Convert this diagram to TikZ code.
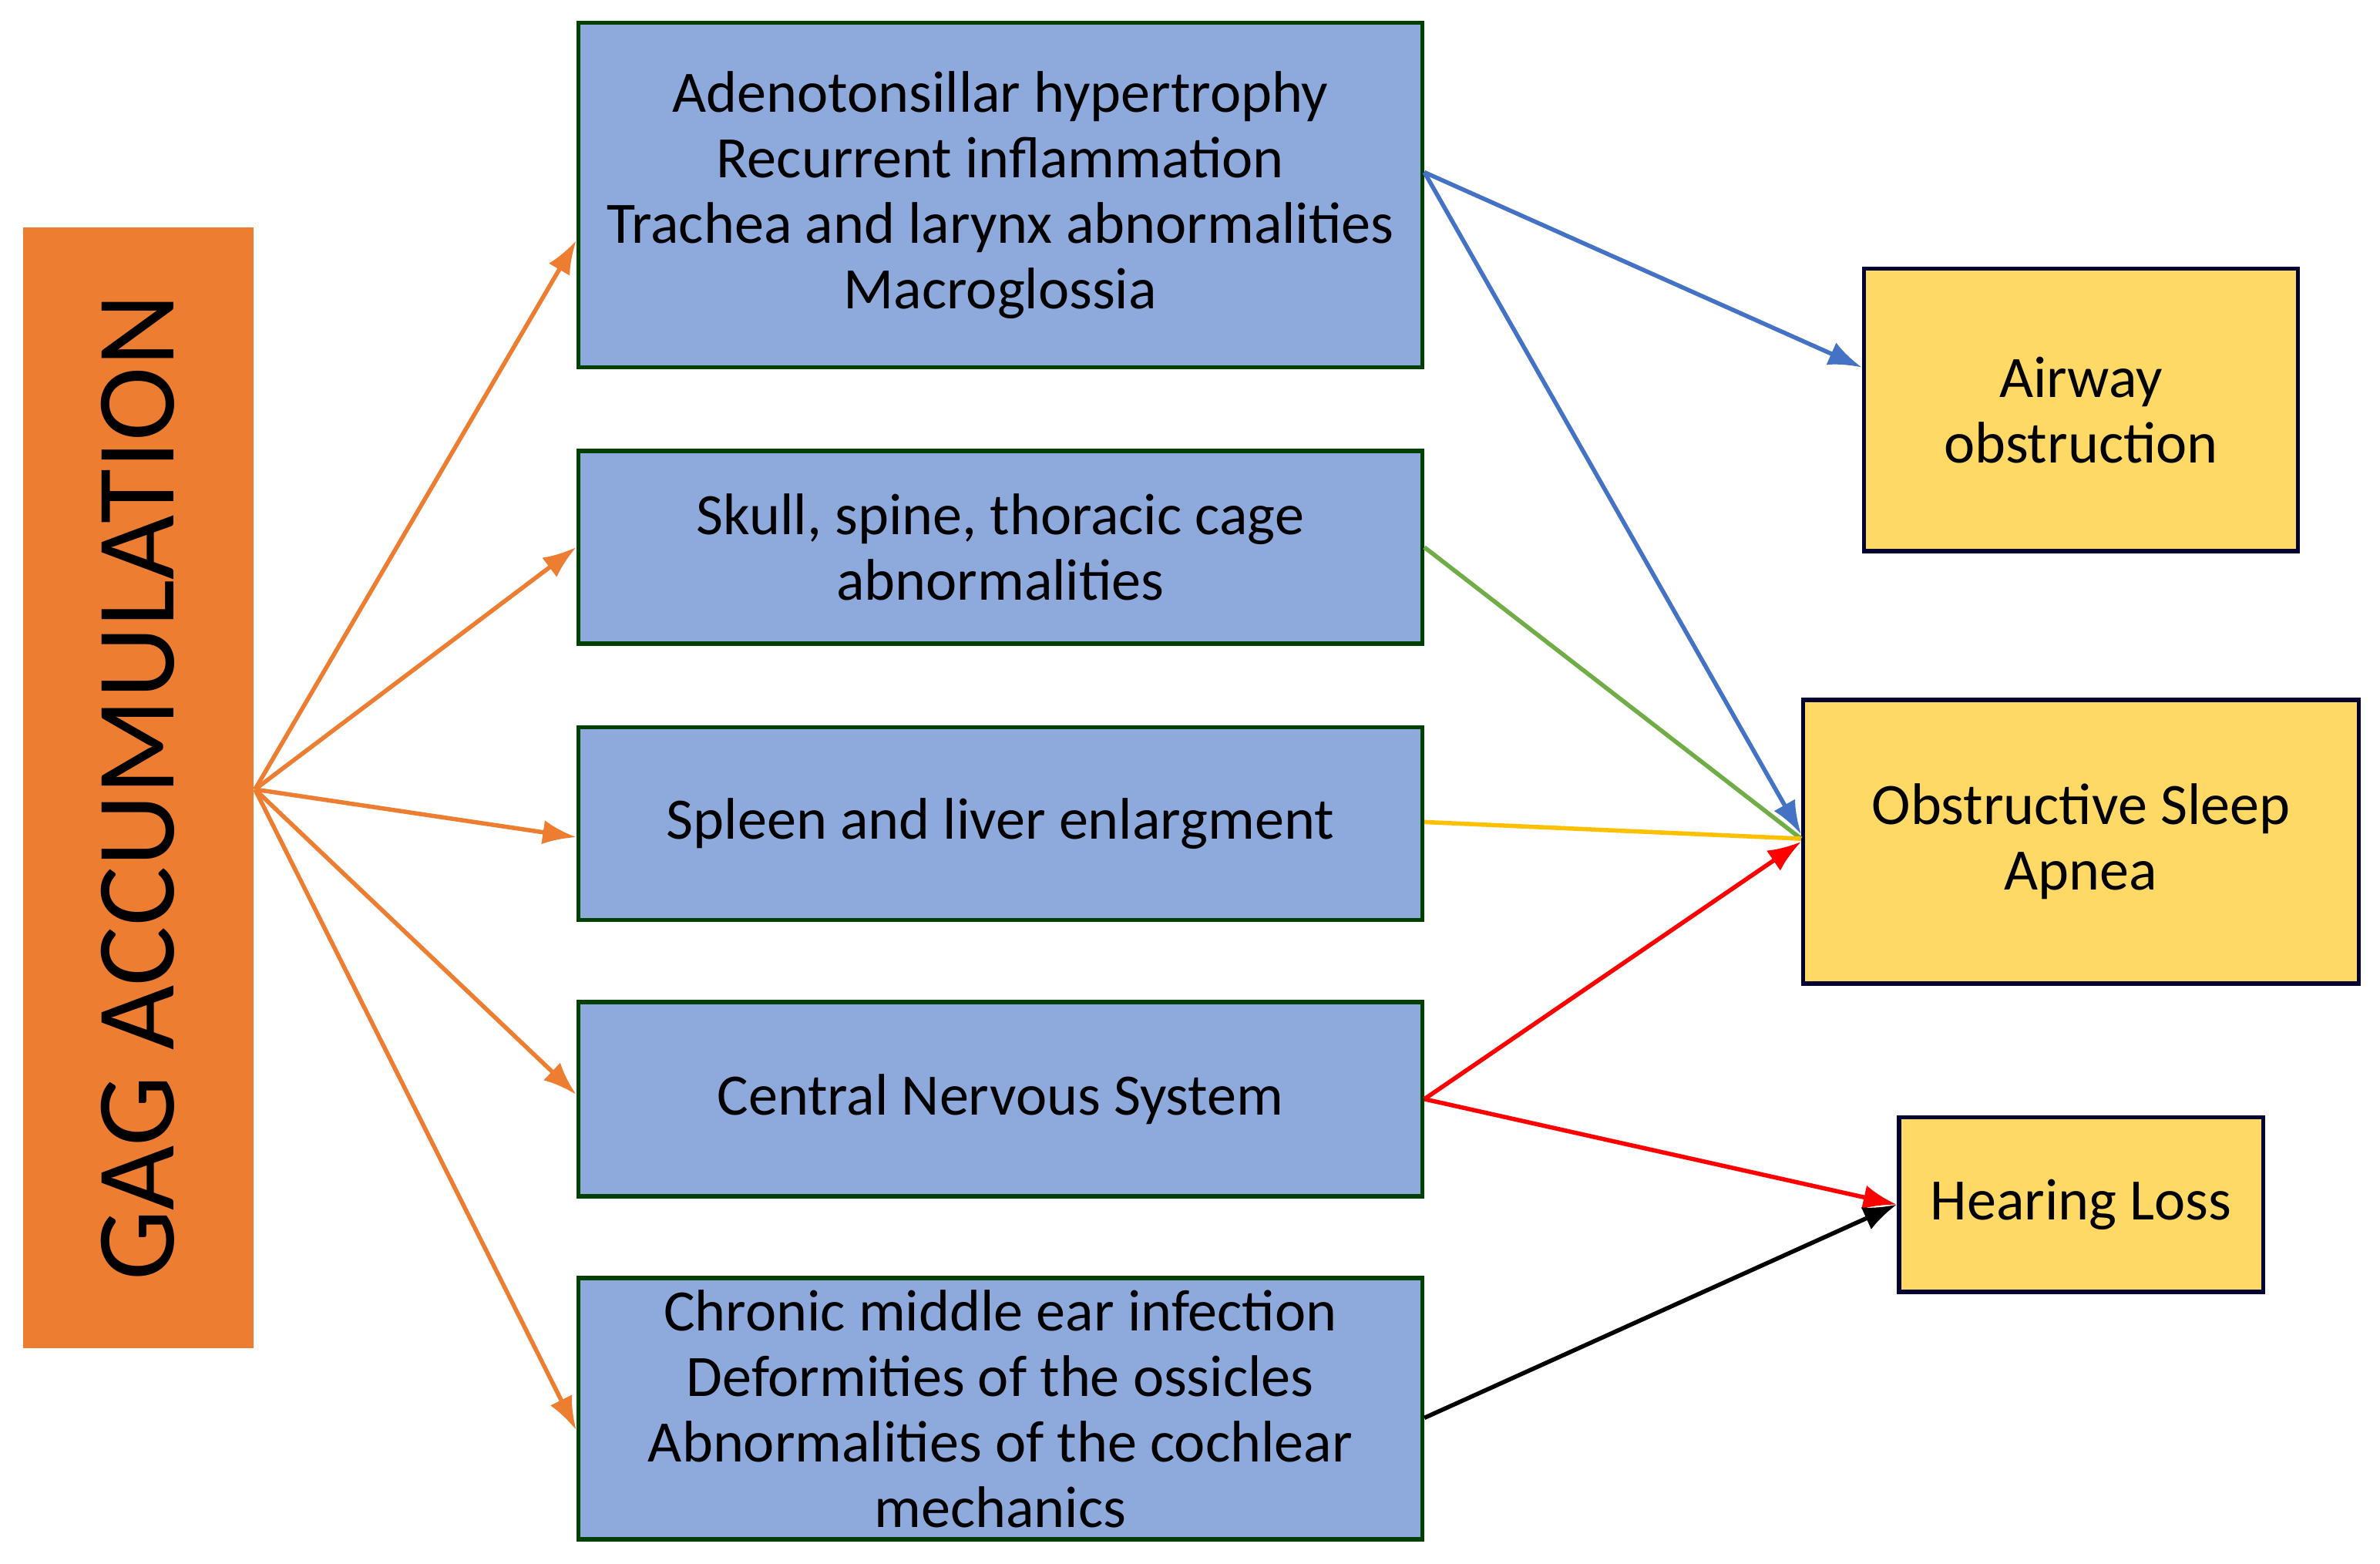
\documentclass[tikz,border=0pt]{standalone}
\usepackage{fontspec}
\setmainfont{Carlito}
\usepackage{tikz}
\usetikzlibrary{arrows.meta}
\definecolor{gagorange}{HTML}{ED7D31}
\definecolor{boxblue}{HTML}{8EA9DB}
\definecolor{boxyellow}{HTML}{FFD966}
\definecolor{lineblue}{HTML}{4472C4}
\definecolor{linegreen}{HTML}{70AD47}
\definecolor{lineyellow}{HTML}{FFC000}
\tikzset{
  cause/.style={draw=black!75!green, fill=boxblue, thick, minimum width=5.56cm, align=center, font=\fontsize{11}{12.3}\selectfont, inner sep=0pt},
  effect/.style={draw=black!80!blue, fill=boxyellow, thick, align=center, font=\fontsize{11}{12.3}\selectfont, inner sep=0pt},
  link/.style={thick, -{Latex[length=2.2mm,width=1.6mm]}}
}
\begin{document}
\begin{tikzpicture}
  \useasboundingbox (0,0) rectangle (15.68,10.30);

  % left block
  \node[fill=gagorange, minimum width=1.52cm, minimum height=7.38cm, inner sep=0pt] (gag) at (0.91,5.11) {};
  \node[rotate=90, font=\fontsize{21}{24}\selectfont] at (gag.center) {GAG ACCUMULATION};
  \coordinate (src) at (1.68,5.10);

  % middle column
  \node[cause, minimum height=2.27cm] (airway) at (6.59,9.015) {Adenotonsillar hypertrophy\\Recurrent inflammation\\Trachea and larynx abnormalities\\Macroglossia};
  \node[cause, minimum height=1.27cm] (skull) at (6.59,6.695) {Skull, spine, thoracic cage\\abnormalities};
  \node[cause, minimum height=1.27cm] (spleen) at (6.59,4.875) {Spleen and liver enlargment};
  \node[cause, minimum height=1.28cm] (cns) at (6.59,3.06) {Central Nervous System};
  \node[cause, minimum height=1.72cm] (ear) at (6.59,1.02) {Chronic middle ear infection\\Deformities of the ossicles\\Abnormalities of the cochlear\\mechanics};

  % right column
  \node[effect, minimum width=2.86cm, minimum height=1.86cm] (obstr) at (13.71,7.60) {Airway\\obstruction};
  \node[effect, minimum width=3.66cm, minimum height=1.87cm] (osa) at (13.71,4.755) {Obstructive Sleep\\Apnea};
  \node[effect, minimum width=2.40cm, minimum height=1.15cm] (hear) at (13.71,2.365) {Hearing Loss};

  % arrows
  \foreach \t/\dy in {airway/-0.30, skull/0, spleen/-0.09, cns/0.03, ear/-0.14}
    \draw[link, gagorange] (src) -- ([yshift=\dy cm]\t.west);
  \draw[link, lineblue] ([yshift=0.15cm]airway.east) -- ([yshift=0.28cm]obstr.west);
  \draw[link, lineblue] ([yshift=0.15cm]airway.east) -- ([yshift=0.05cm]osa.west);
  \draw[thick, linegreen] (skull.east) -- ([yshift=0.02cm]osa.west);
  \draw[thick, lineyellow] ([yshift=0.01cm]spleen.east) -- ([yshift=0.02cm]osa.west);
  \draw[link, red] ([yshift=0.0cm]cns.east) -- ([yshift=0.00cm]osa.west);
  \draw[link, red] (cns.east) -- ([yshift=0.0cm]hear.west);
  \draw[link, black] ([yshift=-0.06cm]ear.east) -- (hear.west);
\end{tikzpicture}
\end{document}
